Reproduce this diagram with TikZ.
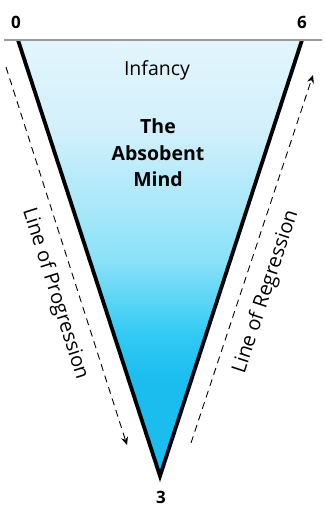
\documentclass[tikz,border=0pt]{standalone}
\usepackage{fontspec}
\setmainfont{Open Sans}
\usetikzlibrary{arrows.meta}
\definecolor{cA}{HTML}{1BBDEF}
\definecolor{cB}{HTML}{30CAF4}
\definecolor{cC}{HTML}{8CE2F8}
\definecolor{cD}{HTML}{D3F0FB}
\definecolor{cE}{HTML}{E2F5FC}
\pgfdeclareverticalshading{cone}{100bp}{color(0bp)=(cA); color(25bp)=(cA); color(36bp)=(cA); color(41bp)=(cB); color(50bp)=(cC); color(65bp)=(cD); color(75bp)=(cE); color(100bp)=(cE)}
\tikzset{
  edge/.style={line width=3.8pt, line join=miter, black},
  guide/.style={line width=0.9pt, dash pattern=on 7pt off 5pt, -{Stealth[length=8pt,width=7pt]}},
  digit/.style={font=\bfseries\fontsize{17}{17}\selectfont, inner sep=0pt},
  title/.style={font=\bfseries\fontsize{19.5}{26.5}\selectfont, align=center, inner sep=0pt},
  side/.style={font=\fontsize{20}{20}\selectfont, inner sep=0pt},
}
\begin{document}
\begin{tikzpicture}[x=1pt,y=-1pt]
\useasboundingbox (0,0) rectangle (326,509);
\coordinate (tl) at (18,40);
\coordinate (tr) at (302,40);
\coordinate (bt) at (160,476);
\coordinate (gl) at (4,40);
\coordinate (gr) at (322,40);
\shade[shading=cone] (tl) -- (tr) -- (bt) -- cycle;
\draw[edge] (tl) -- (bt) -- (tr);
\draw[line width=2pt, gray!80] (gl) -- (gr);
\node[digit] (n0) at (16,22) {0};
\node[digit] (n6) at (302,22) {6};
\node[digit] (n3) at (161,497) {3};
\node[font=\fontsize{19.5}{19.5}\selectfont, inner sep=0pt] (inf) at (157,70) {Infancy};
\node[title] (mind) at (158,153) {The\\Absobent\\Mind};
\coordinate (p1) at (6,67);
\coordinate (p2) at (127,445);
\coordinate (r1) at (191,443);
\coordinate (r2) at (313,75);
\draw[guide] (p1) -- (p2);
\draw[guide] (r1) -- (r2);
\node[side, rotate=-72.3] (prog) at (55,294) {Line of Progression};
\node[side, rotate=71.7] (reg) at (266,292) {Line of Regression};
\end{tikzpicture}
\end{document}
